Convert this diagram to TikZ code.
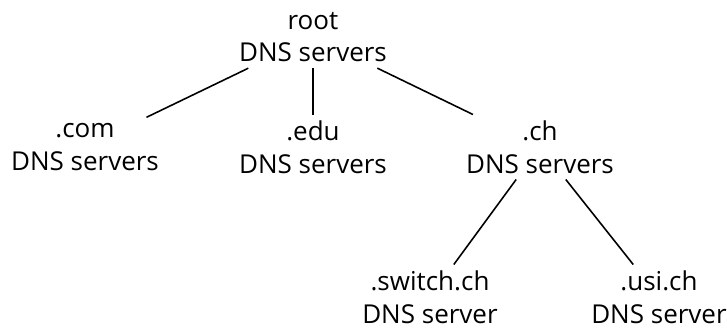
\documentclass[tikz,border=0pt]{standalone}
\usepackage{fontspec}
\setmainfont{Open Sans}
\usepackage{tikz}

\tikzset{dns/.style={align=center, inner xsep=1pt, inner ysep=3pt, font=\fontsize{14.8pt}{18.7pt}\selectfont}}

\begin{document}
\begin{tikzpicture}[scale=2, line width=0.9pt]
    \useasboundingbox (0,0) rectangle (7.27,3.27);

    % root servers
    \node[dns] (root) at (3.13,2.90) {root\\DNS servers};

    % top level domains
    \node[dns] (com) at (0.85,1.80) {.com\\DNS servers};
    \node[dns] (edu) at (3.13,1.80) {.edu\\DNS servers};
    \node[dns] (ch) at (5.40,1.80) {.ch\\DNS servers};

    % second level
    \node[dns] (switch) at (4.30,0.30) {.switch.ch\\DNS server};
    \node[dns] (usi) at (6.59,0.30) {.usi.ch\\DNS server};

    \draw (root) -- (com);
    \draw (root) -- (edu);
    \draw (root) -- (ch);
    \draw (ch) -- (switch);
    \draw (ch) -- (usi);
\end{tikzpicture}
\end{document}
